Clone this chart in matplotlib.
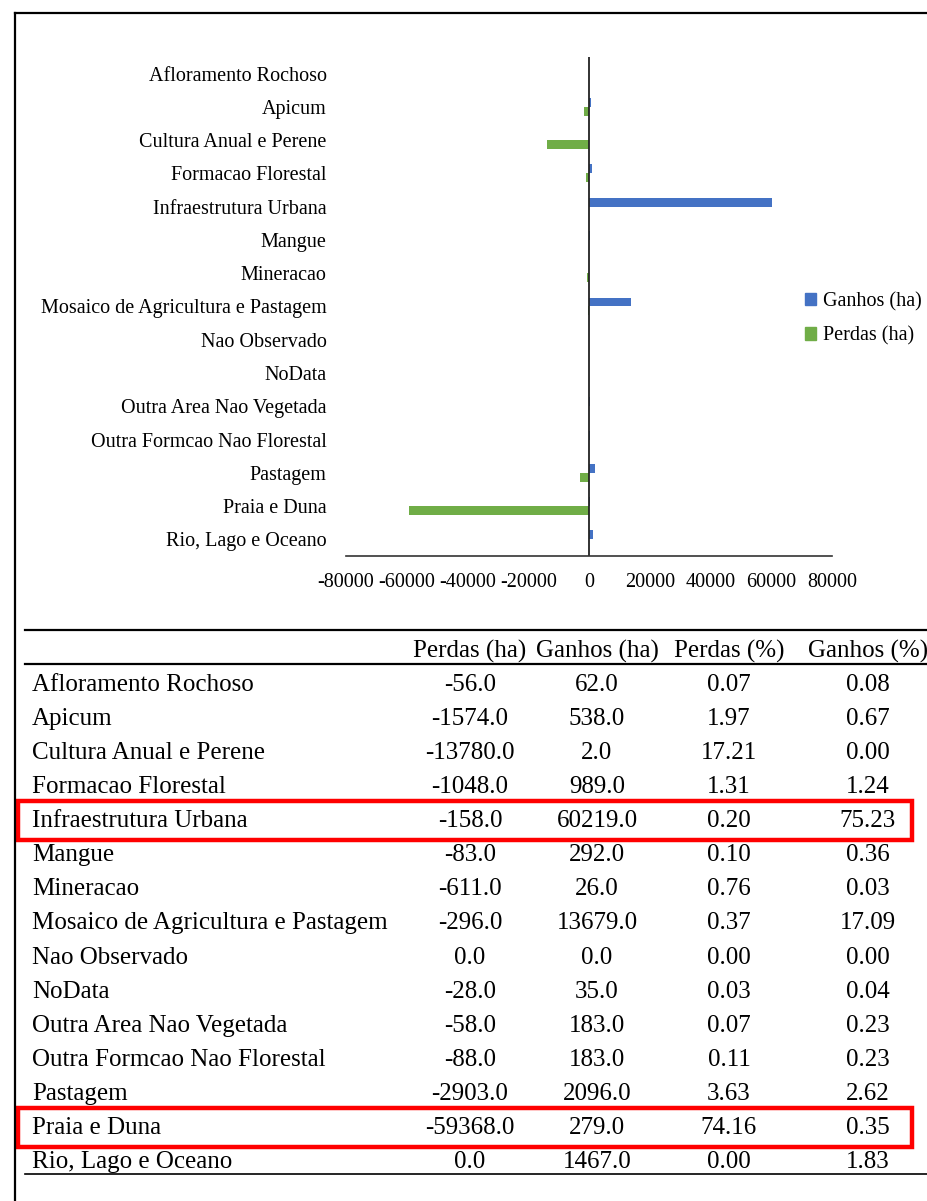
import matplotlib
matplotlib.use("Agg")
import matplotlib.pyplot as plt
from matplotlib.patches import Rectangle, Patch

plt.rcParams["font.family"] = ["Liberation Serif", "DejaVu Serif"]

# ── DATA ───────────────────────────────────────────────────
categories = [
    "Afloramento Rochoso", "Apicum", "Cultura Anual e Perene",
    "Formacao Florestal", "Infraestrutura Urbana", "Mangue", "Mineracao",
    "Mosaico de Agricultura e Pastagem", "Nao Observado", "NoData",
    "Outra Area Nao Vegetada", "Outra Formcao Nao Florestal", "Pastagem",
    "Praia e Duna", "Rio, Lago e Oceano",
]
perdas_ha  = [-56, -1574, -13780, -1048, -158, -83, -611, -296, 0, -28, -58, -88, -2903, -59368, 0]
ganhos_ha  = [62, 538, 2, 989, 60219, 292, 26, 13679, 0, 35, 183, 183, 2096, 279, 1467]
perdas_pct = [0.07, 1.97, 17.21, 1.31, 0.20, 0.10, 0.76, 0.37, 0.00, 0.03, 0.07, 0.11, 3.63, 74.16, 0.00]
ganhos_pct = [0.08, 0.67, 0.00, 1.24, 75.23, 0.36, 0.03, 17.09, 0.00, 0.04, 0.23, 0.23, 2.62, 0.35, 1.83]
headers    = ["Perdas (ha)", "Ganhos (ha)", "Perdas (%)", "Ganhos (%)"]
highlight  = ["Infraestrutura Urbana", "Praia e Duna"]
x_ticks    = [-80000, -60000, -40000, -20000, 0, 20000, 40000, 60000, 80000]

BLUE  = "#4472C4"
GREEN = "#70AD47"
W, H = 927, 1201

fig = plt.figure(figsize=(W / 100, H / 100), dpi=100)

# ── OVERLAY IN PIXEL COORDS (borders, table) ───────────────
ov = fig.add_axes([0, 0, 1, 1])
ov.set_xlim(0, W)
ov.set_ylim(H, 0)
ov.axis("off")

ov.plot([15, W], [13, 13], color="black", lw=1.6)
ov.plot([15, 15], [13, H], color="black", lw=1.6)

# ── CHART ──────────────────────────────────────────────────
ax = fig.add_axes([346 / W, 1 - 556 / H, 486 / W, 499 / H])
ypos = list(range(len(categories)))
bh = 0.27
ax.barh([y - bh / 2 for y in ypos], ganhos_ha, height=bh, color=BLUE, label="Ganhos (ha)")
ax.barh([y + bh / 2 for y in ypos], perdas_ha, height=bh, color=GREEN, label="Perdas (ha)")
ax.set_xlim(-80000, 80000)
ax.set_ylim(len(categories) - 0.5, -0.5)
ax.axvline(0, color="#222222", lw=1.3)
for s in ["top", "right", "left"]:
    ax.spines[s].set_visible(False)
ax.spines["bottom"].set_color("#333333")
ax.spines["bottom"].set_linewidth(1.2)
ax.set_yticks(ypos)
ax.set_yticklabels(categories, fontsize=14.5)
ax.tick_params(axis="y", length=0, pad=14)
ax.set_xticks(x_ticks)
ax.set_xticklabels([str(v) for v in x_ticks], fontsize=14.5)
ax.tick_params(axis="x", length=0, pad=12)

ax.legend(handles=[Patch(color=BLUE, label="Ganhos (ha)"), Patch(color=GREEN, label="Perdas (ha)")],
          loc="upper left", bbox_to_anchor=(805, 292), bbox_transform=ov.transData,
          frameon=False, fontsize=14.5, handlelength=0.55, handleheight=0.55,
          handletextpad=0.35, labelspacing=0.75, borderpad=0, borderaxespad=0)

# ── TABLE ──────────────────────────────────────────────────
col_x = [470, 597, 729, 868]
header_y = 651
row0, row_step = 685, 34.07
ov.plot([25, W], [630, 630], color="black", lw=1.6)
ov.plot([25, W], [664, 664], color="black", lw=1.6)
ov.plot([25, W], [1174, 1174], color="black", lw=1.2)

for cx, h in zip(col_x, headers):
    ov.text(cx, header_y, h, fontsize=18, ha="center", va="center")

for i, cat in enumerate(categories):
    y = row0 + i * row_step
    ov.text(32, y, cat, fontsize=18, ha="left", va="center")
    vals = [f"{perdas_ha[i]:.1f}", f"{ganhos_ha[i]:.1f}", f"{perdas_pct[i]:.2f}", f"{ganhos_pct[i]:.2f}"]
    for cx, v in zip(col_x, vals):
        ov.text(cx, y, v, fontsize=18, ha="center", va="center")
    if cat in highlight:
        ov.add_patch(Rectangle((18, y - 20), 894, 39, fill=False, edgecolor="#FF0000", lw=3.2))

fig.savefig("out.png", dpi=100)
